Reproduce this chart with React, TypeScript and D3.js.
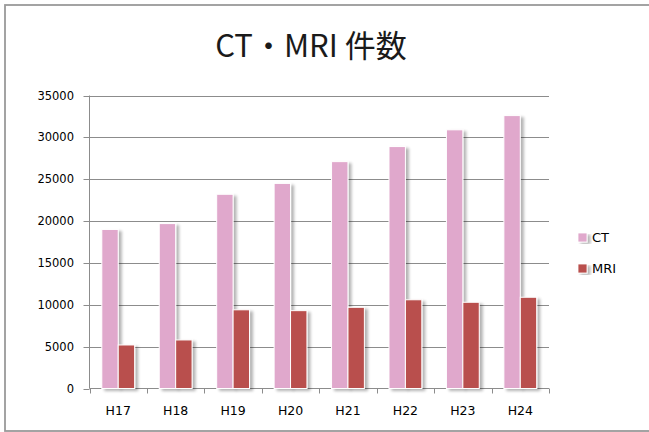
import React from "react";
import * as d3 from "d3";

const categories = ["H17", "H18", "H19", "H20", "H21", "H22", "H23", "H24"];
const seriesNames = ["CT", "MRI"];
const ctValues = [19000, 19700, 23200, 24500, 27100, 28900, 30900, 32600];
const mriValues = [5200, 5800, 9400, 9300, 9700, 10600, 10300, 10900];
const yTicks = [0, 5000, 10000, 15000, 20000, 25000, 30000, 35000];
const colors = ["#E0A8CC", "#B9504D"];

const W = 649;
const H = 432;
const left = 89.5;
const right = 549;
const top = 95.5;
const bottom = 388.5;

export default function App() {
  const x = d3.scaleBand<string>().domain(categories).range([left, right]).paddingInner(0).paddingOuter(0);
  const y = d3.scaleLinear().domain([0, 35000]).range([bottom, top]);
  const bw = x.bandwidth() / 3.5;
  const series = [ctValues, mriValues];
  const font = "'DejaVu Sans', Verdana, sans-serif";

  return (
    <svg width={W} height={H} style={{ position: "absolute", left: 0, top: 0, background: "#fff" }}>
      <defs>
        <filter id="sh" x="-30%" y="-10%" width="180%" height="130%">
          <feGaussianBlur in="SourceAlpha" stdDeviation="1.6" />
          <feOffset dx="3" dy="2" result="b" />
          <feComponentTransfer>
            <feFuncA type="linear" slope="0.3" />
          </feComponentTransfer>
          <feMerge>
            <feMergeNode />
            <feMergeNode in="SourceGraphic" />
          </feMerge>
        </filter>
      </defs>
      <rect x={5} y={5} width={W + 10} height={426} fill="none" stroke="#9a9a9a" strokeWidth={1.8} />
      <text x={311} y={57} textAnchor="middle" fontFamily="'Noto Sans CJK JP', sans-serif" fontWeight={400} fontSize={31} fill="#1a1a1a">
        CT・MRI 件数
      </text>
      {yTicks.map((t) => (
        <g key={t}>
          {t > 0 && <line x1={left} x2={right} y1={Math.round(y(t)) + 0.5} y2={Math.round(y(t)) + 0.5} stroke="#8c8c8c" strokeWidth={1} />}
          <line x1={left - 6} x2={left} y1={Math.round(y(t)) + 0.5} y2={Math.round(y(t)) + 0.5} stroke="#8c8c8c" />
          <text x={74} y={y(t)} dy="0.36em" textAnchor="end" fontFamily={font} fontSize={11.5} fill="#000">
            {t}
          </text>
        </g>
      ))}
      <line x1={left} x2={left} y1={top} y2={bottom} stroke="#8c8c8c" />
      <line x1={left} x2={right} y1={bottom} y2={bottom} stroke="#8c8c8c" />
      {categories.concat([""]).map((c, i) => {
        const xx = Math.round(left + i * x.bandwidth()) + 0.5;
        return <line key={"t" + i} x1={xx} x2={xx} y1={bottom} y2={bottom + 5} stroke="#8c8c8c" />;
      })}
      {categories.map((c, i) => (
        <g key={c}>
          {series.map((vals, s) => {
            const bx = (x(c) as number) + bw * 0.75 + s * bw;
            return (
              <rect
                key={s}
                x={bx}
                y={y(vals[i])}
                width={bw}
                height={bottom - y(vals[i])}
                fill={colors[s]}
                stroke="#ffffff"
                strokeWidth={1}
                filter="url(#sh)"
              />
            );
          })}
          <text x={(x(c) as number) + x.bandwidth() / 2} y={415} textAnchor="middle" fontFamily={font} fontSize={12.5} fill="#000">
            {c}
          </text>
        </g>
      ))}
      {seriesNames.map((n, s) => (
        <g key={n}>
          <rect x={578} y={233 + s * 31} width={9} height={9} fill={colors[s]} stroke="#fff" strokeWidth={0.8} filter="url(#sh)" />
          <text x={592} y={237.5 + s * 31} dy="0.36em" fontFamily={font} fontSize={13} fill="#000">
            {n}
          </text>
        </g>
      ))}
    </svg>
  );
}
